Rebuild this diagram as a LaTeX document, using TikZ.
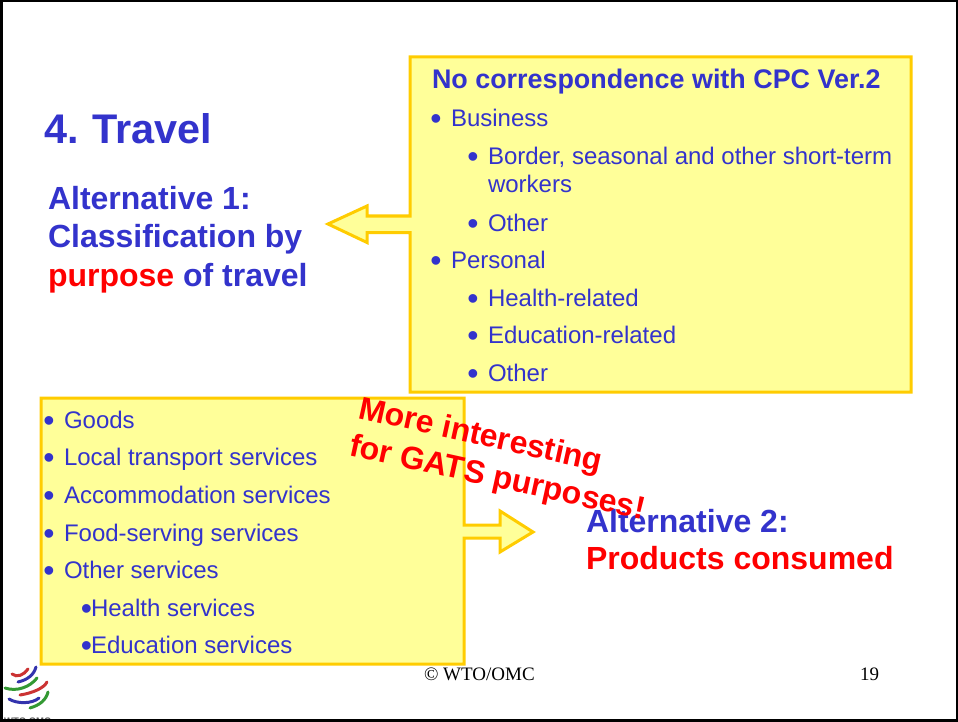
\documentclass[tikz,border=0pt]{standalone}
\usepackage{fontspec}
\setmainfont{Liberation Sans}
\newfontfamily\timesf{Liberation Serif}
\definecolor{wblue}{HTML}{3333CC}
\definecolor{wred}{HTML}{FF0000}
\definecolor{wfill}{HTML}{FFFF99}
\definecolor{wline}{HTML}{FFCC00}
\newcommand{\wbul}{\makebox[0pt][c]{\raisebox{-3pt}{\fontsize{32}{32}\selectfont•}}}
\tikzset{
  callout/.style={draw=wline,fill=wfill,line width=3pt,line join=miter},
  txt/.style={anchor=base west,inner sep=0pt,outer sep=0pt,text=wblue,font=\fontsize{24}{28}\selectfont},
  alt/.style={anchor=base west,inner sep=0pt,outer sep=0pt,text=wblue,font=\bfseries\fontsize{32}{36}\selectfont},
  slant/.style={anchor=base west,inner sep=0pt,outer sep=0pt,text=wred,rotate=-12.4,font=\bfseries\fontsize{32}{36}\selectfont},
  foot/.style={anchor=base west,inner sep=0pt,outer sep=0pt,text=black,font=\timesf\fontsize{19}{22}\selectfont},
  ring/.style={line width=3pt,line cap=round,opacity=.8},
}
\begin{document}
\begin{tikzpicture}[x=1pt,y=-1pt]
\useasboundingbox (0,0) rectangle (958,722);
\fill[white] (0,0) rectangle (958,722);
% callout boxes
\draw[callout] (410,57) -- (911,57) -- (911,392) -- (410,392) -- (410,232.5) -- (367,232.5) -- (367,242.5) -- (328,224) -- (367,206) -- (367,216) -- (410,216) -- cycle;
\draw[callout] (41,398) -- (464,398) -- (464,525) -- (500,525) -- (500,511) -- (533,532) -- (500,552) -- (500,538) -- (464,538) -- (464,664) -- (41,664) -- cycle;
% title
\node[txt,font=\bfseries\fontsize{41.4}{46}\selectfont] (title) at (44,144) {4.\hspace{13.5pt}Travel};
\node[alt] (a1) at (48,210) {Alternative 1:};
\node[alt] (a2) at (48,247) {Classification by};
\node[alt] (a3) at (48,286) {\textcolor{wred}{purpose} of travel};
% box one
\node[txt,font=\bfseries\fontsize{26.9}{30}\selectfont] (h1) at (432,89) {No correspondence with CPC Ver.2};
\node[txt] (b1) at (436,127) {\wbul\hspace{15pt}Business};
\node[txt] (b2) at (473,165) {\wbul\hspace{15pt}Border, seasonal and other short-term};
\node[txt] (b3) at (488,193) {workers};
\node[txt] (b4) at (473,231) {\wbul\hspace{15pt}Other};
\node[txt] (b5) at (436,268) {\wbul\hspace{15pt}Personal};
\node[txt] (b6) at (473,306) {\wbul\hspace{15pt}Health-related};
\node[txt] (b7) at (473,343) {\wbul\hspace{15pt}Education-related};
\node[txt] (b8) at (473,381) {\wbul\hspace{15pt}Other};
% box two
\node[txt] (c1) at (49,428) {\wbul\hspace{15pt}Goods};
\node[txt] (c2) at (49,465) {\wbul\hspace{15pt}Local transport services};
\node[txt] (c3) at (49,503) {\wbul\hspace{15pt}Accommodation services};
\node[txt] (c4) at (49,541) {\wbul\hspace{15pt}Food-serving services};
\node[txt] (c5) at (49,578) {\wbul\hspace{15pt}Other services};
\node[txt] (c6) at (86.5,616) {\wbul\hspace{4.5pt}Health services};
\node[txt] (c7) at (86.5,653) {\wbul\hspace{4.5pt}Education services};
% alternative 2
\node[alt] (d1) at (586,532) {Alternative 2:};
\node[alt,text=wred] (d2) at (586,569) {Products consumed};
% slanted note
\node[slant] (s1) at (357,418) {More interesting};
\node[slant] (s2) at (348,455) {for GATS purposes!};
% footer
\node[foot] (f1) at (424,680) {© WTO/OMC};
\node[foot] (f2) at (860,680) {19};
% logo
\fill[white] (4,665.5) rectangle (50,719);
\draw[ring,color=red!75!black] (12,674) .. controls (17,678) and (24,675) .. (28,669);
\draw[ring,color=blue!60!black] (18,682) .. controls (27,680) and (34,675) .. (36,667);
\draw[ring,color=green!50!black] (5,688) .. controls (17,692) and (30,687) .. (37,678);
\draw[ring,color=red!75!black] (20,695) .. controls (33,693) and (44,688) .. (47,682);
\draw[ring,color=blue!60!black] (9,699) .. controls (17,704) and (32,704) .. (39,698);
\draw[ring,color=green!50!black] (30,708) .. controls (40,705) and (46,700) .. (48,692);
\begin{scope}
\clip (0,700) rectangle (958,720);
\node[anchor=base west,inner sep=0pt,text=black!65,font=\bfseries\fontsize{9.5}{10}\selectfont] (w) at (4,724) {WTO OMC};
\end{scope}
% frame
\draw[black,line width=2.6pt] (1.2,1.2) -- (956.8,1.2) -- (956.8,720.5) -- (1.2,720.5) -- cycle;
\end{tikzpicture}
\end{document}
